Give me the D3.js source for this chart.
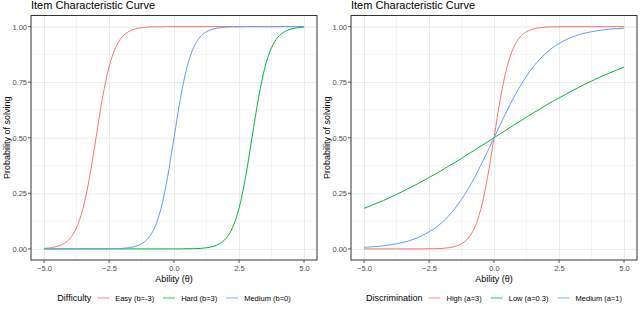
<!DOCTYPE html>
<html>
<head>
<meta charset="utf-8">
<script src="https://cdn.jsdelivr.net/npm/d3@7"></script>
<style>
  body { margin: 0; background: #fff; }
  text { font-family: "Liberation Sans", Arial, sans-serif; }
</style>
</head>
<body>
<script>
// ability grid (step 0.25 from -5 to 5)
var ability = d3.range(41).map(function(i) { return -5 + i * 0.25; });

// left panel: difficulty
var easy = [0.002,0.005,0.011,0.023,0.047,0.095,0.182,0.321,0.5,0.679,0.818,0.905,0.953,0.977,0.989,0.995,0.998,0.999,0.999,
  1,1,1,1,1,1,1,1,1,1,1,1,1,1,1,1,1,1,1,1,1,1];
var hard = [0,0,0,0,0,0,0,0,0,0,0,0,0,0,0,0,0,0,0,0,0,0,
  0.001,0.001,0.002,0.005,0.011,0.023,0.047,0.095,0.182,0.321,0.5,0.679,0.818,0.905,0.953,0.977,0.989,0.995,0.998];
var medium = [0,0,0,0,0,0,0,0,0,0,0.001,0.001,0.002,0.005,0.011,0.023,0.047,0.095,0.182,0.321,
  0.5,0.679,0.818,0.905,0.953,0.977,0.989,0.995,0.998,0.999,0.999,1,1,1,1,1,1,1,1,1,1];

// right panel: discrimination
var high = medium.slice();
var low = [0.182,0.194,0.206,0.218,0.231,0.245,0.259,0.274,0.289,0.305,0.321,0.337,0.354,0.372,0.389,0.407,0.426,0.444,0.463,0.481,
  0.5,0.519,0.537,0.556,0.574,0.593,0.611,0.628,0.646,0.663,0.679,0.695,0.711,0.726,0.741,0.755,0.769,0.782,0.794,0.806,0.818];
var med1 = [0.007,0.009,0.011,0.014,0.018,0.023,0.029,0.037,0.047,0.060,0.076,0.095,0.119,0.148,0.182,0.223,0.269,0.321,0.378,0.438,
  0.5,0.562,0.622,0.679,0.731,0.777,0.818,0.852,0.881,0.905,0.924,0.940,0.953,0.963,0.971,0.977,0.982,0.986,0.989,0.991,0.993];

var leftLabels = ["Easy (b=-3)", "Hard (b=3)", "Medium (b=0)"];
var rightLabels = ["High (a=3)", "Low (a=0.3)", "Medium (a=1)"];
var xTicks = [-5, -2.5, 0, 2.5, 5];
var yTicks = [0, 0.25, 0.5, 0.75, 1];
var colors = ["#F8766D", "#00BA38", "#619CFF"];

var width = 640, height = 313;
var svg = d3.select("body").append("svg")
  .attr("width", width)
  .attr("height", height);

function drawPanel(ox, seriesList, legendTitle, labels) {
  var panel = { left: ox + 31, right: ox + 317, top: 15.5, bottom: 260 };
  var g = svg.append("g");

  var xScale = d3.scaleLinear().domain([-5.5, 5.5]).range([panel.left, panel.right]);
  var yScale = d3.scaleLinear().domain([-0.05, 1.05]).range([panel.bottom, panel.top]);

  // minor grid
  var xMinor = [-3.75, -1.25, 1.25, 3.75];
  var yMinor = [0.125, 0.375, 0.625, 0.875];
  g.selectAll(".xminor").data(xMinor).enter().append("line")
    .attr("x1", function(d) { return xScale(d); }).attr("x2", function(d) { return xScale(d); })
    .attr("y1", panel.top).attr("y2", panel.bottom)
    .attr("stroke", "#EBEBEB").attr("stroke-width", 0.5);
  g.selectAll(".yminor").data(yMinor).enter().append("line")
    .attr("y1", function(d) { return yScale(d); }).attr("y2", function(d) { return yScale(d); })
    .attr("x1", panel.left).attr("x2", panel.right)
    .attr("stroke", "#EBEBEB").attr("stroke-width", 0.5);

  // major grid via axes
  var xAxis = d3.axisBottom(xScale).tickValues(xTicks)
    .tickFormat(d3.format(".1f"))
    .tickSize(-(panel.bottom - panel.top)).tickPadding(5);
  var yAxis = d3.axisLeft(yScale).tickValues(yTicks)
    .tickFormat(d3.format(".2f"))
    .tickSize(-(panel.right - panel.left)).tickPadding(4);

  var xg = g.append("g").attr("transform", "translate(0," + panel.bottom + ")").call(xAxis);
  var yg = g.append("g").attr("transform", "translate(" + panel.left + ",0)").call(yAxis);
  [xg, yg].forEach(function(ax) {
    ax.select(".domain").remove();
    ax.selectAll("line").attr("stroke", "#EBEBEB").attr("stroke-width", 1);
    ax.selectAll("text").attr("fill", "#4D4D4D").style("font-size", "7.5px")
      .style("font-family", "'Liberation Sans', Arial, sans-serif");
  });
  xg.selectAll("text").attr("dy", "0.71em").attr("y", 6);

  // tick marks outside
  g.selectAll(".xt").data(xTicks).enter().append("line")
    .attr("x1", function(d) { return xScale(d); }).attr("x2", function(d) { return xScale(d); })
    .attr("y1", panel.bottom).attr("y2", panel.bottom + 3)
    .attr("stroke", "#333333").attr("stroke-width", 0.8);
  g.selectAll(".yt").data(yTicks).enter().append("line")
    .attr("y1", function(d) { return yScale(d); }).attr("y2", function(d) { return yScale(d); })
    .attr("x1", panel.left - 3).attr("x2", panel.left)
    .attr("stroke", "#333333").attr("stroke-width", 0.8);

  // curves
  var line = d3.line()
    .x(function(d, i) { return xScale(ability[i]); })
    .y(function(d) { return yScale(d); })
    .curve(d3.curveMonotoneX);
  seriesList.forEach(function(s, i) {
    g.append("path").datum(s)
      .attr("d", line)
      .attr("fill", "none")
      .attr("stroke", colors[i])
      .attr("stroke-width", 1);
  });

  // border
  g.append("rect")
    .attr("x", panel.left).attr("y", panel.top)
    .attr("width", panel.right - panel.left).attr("height", panel.bottom - panel.top)
    .attr("fill", "none").attr("stroke", "#333333").attr("stroke-width", 1);

  // titles
  g.append("text").attr("x", panel.left).attr("y", 9)
    .style("font-size", "11px").attr("fill", "#000").text("Item Characteristic Curve");
  g.append("text")
    .attr("transform", "translate(" + (ox + 10) + "," + ((panel.top + panel.bottom) / 2) + ") rotate(-90)")
    .attr("text-anchor", "middle").style("font-size", "9px").attr("fill", "#000")
    .text("Probability of solving");
  g.append("text").attr("x", (panel.left + panel.right) / 2).attr("y", 282)
    .attr("text-anchor", "middle").style("font-size", "9px").attr("fill", "#000")
    .text("Ability (\u03B8)");

  // legend
  var lg = g.append("g");
  var lx = 0, ly = 298;
  var t = lg.append("text").attr("x", lx).attr("y", ly).attr("dy", "0.35em")
    .style("font-size", "9px").attr("fill", "#000").text(legendTitle);
  lx += t.node().getComputedTextLength() + 6;
  labels.forEach(function(lab, i) {
    lg.append("line").attr("x1", lx).attr("x2", lx + 12).attr("y1", ly).attr("y2", ly)
      .attr("stroke", colors[i]).attr("stroke-width", 1).attr("opacity", 0.8);
    lx += 18;
    var tt = lg.append("text").attr("x", lx).attr("y", ly).attr("dy", "0.35em")
      .style("font-size", "7.5px").attr("fill", "#000").text(lab);
    lx += tt.node().getComputedTextLength() + 9;
  });
  lx -= 9;
  var cx = (panel.left + panel.right) / 2;
  lg.attr("transform", "translate(" + (cx - lx / 2) + ",0)");
}

drawPanel(0, [easy, hard, medium], "Difficulty", leftLabels);
drawPanel(320, [high, low, med1], "Discrimination", rightLabels);
</script>
</body>
</html>
